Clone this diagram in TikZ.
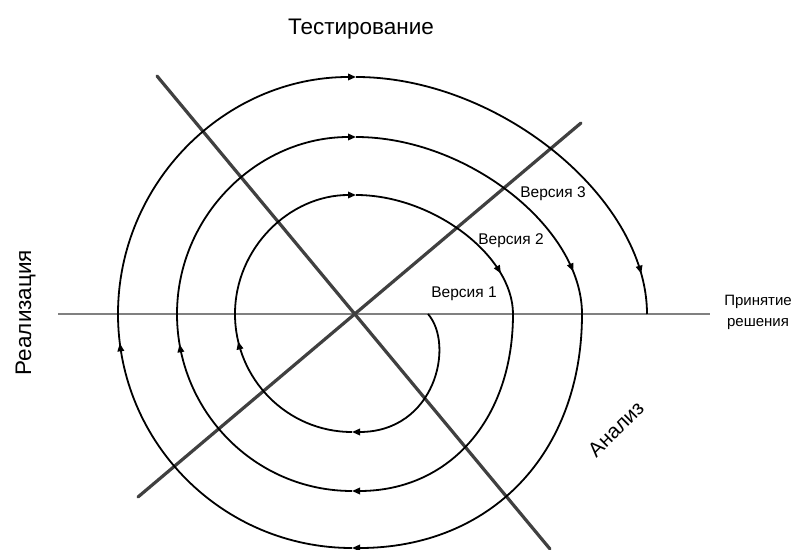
\documentclass[tikz,border=0pt]{standalone}
\usepackage{fontspec}
\setmainfont{Liberation Sans}
\usetikzlibrary{arrows.meta,decorations.markings}
\begin{document}
\begin{tikzpicture}[x=1pt,y=1pt,
  spiral/.style={line width=1.8pt, draw=black},
  sarrow/.style={spiral, -{Triangle[length=8pt,width=6.5pt]}},
  midarrow/.style={spiral, postaction={decorate, decoration={markings, mark=at position #1 with {\arrow{Triangle[length=8pt,width=6.5pt]}}}}},
  axisline/.style={line width=3.2pt, draw=black!75},
  hline/.style={line width=1.4pt, draw=black!50},
  lbl/.style={font=\fontsize{15.5}{18}\selectfont, inner sep=0pt},
  big/.style={font=\fontsize{22.5}{26}\selectfont, inner sep=0pt}]
\useasboundingbox (0,0) rectangle (795,549);

% axes
\coordinate (hl) at (58,235);
\coordinate (hr) at (710,235);
\coordinate (a1) at (157,473);
\coordinate (a2) at (550,0);
\coordinate (b1) at (138,52);
\coordinate (b2) at (581,426);
\draw[hline] (hl) -- (hr);
\draw[axisline, line cap=round] (a1) -- (a2);
\draw[axisline, line cap=round] (b1) -- (b2);

% turn 1
\draw[sarrow] (428,235) .. controls (455,204) and (435,117) .. (352,117);
\draw[midarrow=0.85] (352,117) .. controls (287.4,117) and (235,169.8) .. (235,235);
\draw[sarrow] (235,235) .. controls (235,300.7) and (289.2,354) .. (356,354);
\draw[midarrow=0.8] (356,354) .. controls (432.9,354) and (513,293.3) .. (513,235);
% turn 2
\draw[sarrow] (513,235) .. controls (513,128.8) and (448.6,58) .. (352,58);
\draw[midarrow=0.89] (352,58) .. controls (255.3,58) and (177,137.2) .. (177,235);
\draw[sarrow] (177,235) .. controls (177,332.8) and (257.1,412) .. (356,412);
\draw[midarrow=0.86] (356,412) .. controls (466.7,412) and (582,321.7) .. (582,235);
% turn 3
\draw[sarrow] (582,235) .. controls (582,94.6) and (490,1) .. (352,1);
\draw[midarrow=0.92] (352,1) .. controls (222.8,1) and (118,105.8) .. (118,235);
\draw[sarrow] (118,235) .. controls (118,365.9) and (224.6,472) .. (356,472);
\draw[midarrow=0.9] (356,472) .. controls (498.6,472) and (647,351.1) .. (647,235);

% labels
\node[big, anchor=base] (test) at (361,514) {Тестирование};
\node[big, anchor=base, rotate=90] (real) at (31,236.5) {Реализация};
\node[font=\fontsize{20.5}{24}\selectfont, inner sep=0pt, rotate=45] (anal) at (616,120) {Анализ};
\node[lbl, anchor=base] (v1) at (464,251) {Версия 1};
\node[lbl, anchor=base] (v2) at (511,304) {Версия 2};
\node[lbl, anchor=base] (v3) at (553,351) {Версия 3};
\node[font=\fontsize{15}{21}\selectfont, inner sep=0pt, align=center] (dec) at (758,237) {Принятие\\решения};
\end{tikzpicture}
\end{document}
